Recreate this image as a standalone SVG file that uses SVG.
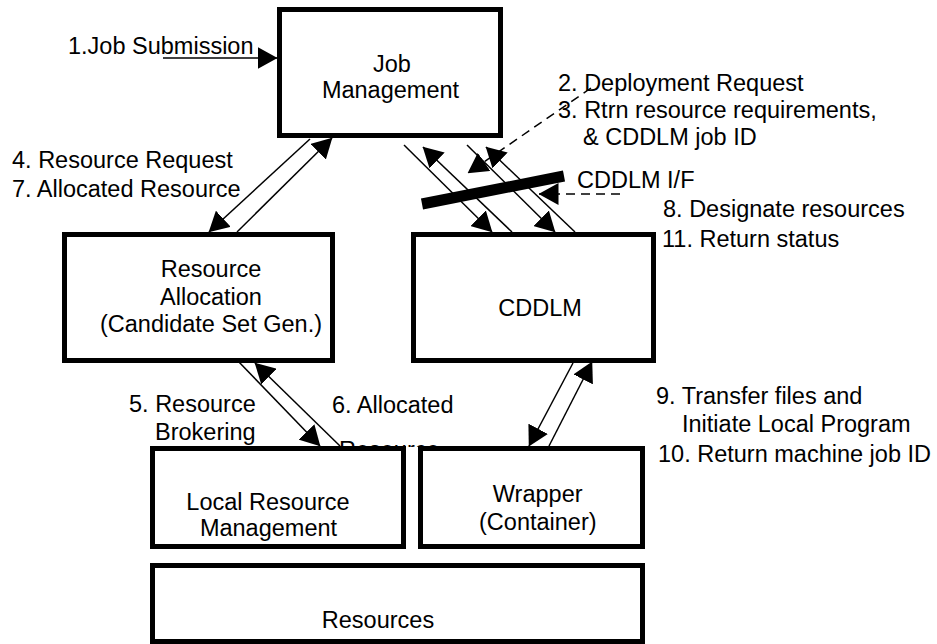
<svg xmlns="http://www.w3.org/2000/svg" width="937" height="644" viewBox="0 0 937 644">
<style>
text{font-family:"Liberation Sans",Arial,sans-serif;font-size:23.5px;fill:#000}
.c{text-anchor:middle}
.box{fill:#fff;stroke:#000;stroke-width:5}
.ln{stroke:#000;stroke-width:1.5;fill:none}
.ar{marker-end:url(#ah)}
.ds{stroke-dasharray:9 6}
</style>
<defs>
<marker id="ah" viewBox="0 0 20 22" refX="19.5" refY="11" markerWidth="20" markerHeight="22" orient="auto" markerUnits="userSpaceOnUse"><path d="M0,0 L20,11 L0,22 z" fill="#000"/></marker>
<clipPath id="cut"><rect x="0" y="0" width="937" height="447"/></clipPath>
</defs>
<rect width="937" height="644" fill="#fff"/>
<g id="labels">
<text x="68" y="54">1.Job Submission</text>
<text x="558" y="91">2. Deployment Request</text>
<text x="558" y="118">3. Rtrn resource requirements,</text>
<text x="583" y="145">&amp; CDDLM job ID</text>
<text x="12" y="168">4. Resource Request</text>
<text x="12" y="197">7. Allocated Resource</text>
<text x="577" y="188">CDDLM I/F</text>
<text x="663" y="217">8. Designate resources</text>
<text x="662" y="247">11. Return status</text>
<text x="129" y="412">5. Resource</text>
<text x="155" y="440">Brokering</text>
<text x="332" y="413">6. Allocated</text>
<text x="339" y="457.5" clip-path="url(#cut)">Resource</text>
<text x="656" y="404">9. Transfer files and</text>
<text x="682" y="432">Initiate Local Program</text>
<text x="658" y="462">10. Return machine job ID</text>
</g>
<g id="job-management">
<rect class="box" x="279.5" y="9.5" width="221" height="126"/>
<text class="c" x="392" y="72">Job</text>
<text class="c" x="390.5" y="98">Management</text>
</g>
<g id="resource-allocation">
<rect class="box" x="64.5" y="234.5" width="268" height="126"/>
<text class="c" x="211" y="277">Resource</text>
<text class="c" x="211" y="305">Allocation</text>
<text class="c" x="211" y="332">(Candidate Set Gen.)</text>
</g>
<g id="cddlm">
<rect class="box" x="413.5" y="234.5" width="240" height="126"/>
<text class="c" x="540" y="316">CDDLM</text>
</g>
<g id="local-resource-management">
<rect class="box" x="152.5" y="448.5" width="251" height="98"/>
<text class="c" x="268" y="510">Local Resource</text>
<text class="c" x="268.5" y="536">Management</text>
</g>
<g id="wrapper">
<rect class="box" x="420.5" y="448.5" width="222" height="98"/>
<text class="c" x="537.7" y="502">Wrapper</text>
<text class="c" x="537.8" y="530">(Container)</text>
</g>
<g id="resources">
<rect class="box" x="152.5" y="565.5" width="490" height="76"/>
<text class="c" x="378" y="628">Resources</text>
</g>
<g id="connectors">
<line class="ln ar" x1="163" y1="58" x2="277" y2="58"/>
<line class="ln ar" x1="310" y1="139" x2="209" y2="232"/>
<line class="ln ar" x1="237" y1="232" x2="332" y2="138"/>
<line class="ln ar" x1="237" y1="360" x2="320" y2="446"/>
<line class="ln ar" x1="340" y1="446" x2="255" y2="363"/>
<line class="ln ar" x1="573" y1="363" x2="529" y2="446"/>
<line class="ln ar" x1="549" y1="446" x2="592" y2="362"/>
<line class="ln ar" x1="404" y1="145" x2="492" y2="232"/>
<line class="ln ar" x1="512" y1="232" x2="423" y2="147"/>
<line class="ln ar" x1="467" y1="145" x2="555" y2="232"/>
<line class="ln ar" x1="575" y1="232" x2="486" y2="147"/>
<line class="ln ar ds" x1="591" y1="88" x2="468" y2="173"/>
<line class="ln ar ds" x1="620" y1="194" x2="539" y2="194"/>
<line x1="422" y1="204" x2="564" y2="176" stroke="#000" stroke-width="11"/>
</g>
</svg>
